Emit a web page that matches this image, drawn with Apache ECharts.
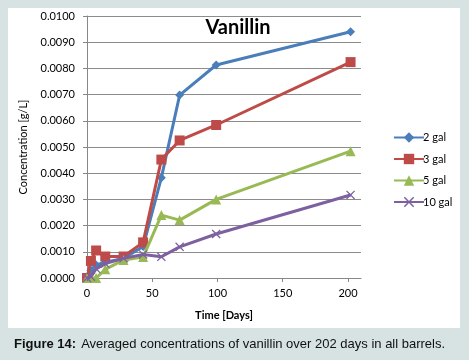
<!DOCTYPE html>
<html>
<head>
<meta charset="utf-8">
<script src="https://cdn.jsdelivr.net/npm/echarts@6/dist/echarts.min.js"></script>
<style>
html,body{margin:0;padding:0;background:#d6e3e2;}
#panel{position:absolute;left:8px;top:8px;width:452px;height:320px;background:#fff;}
#chart{position:absolute;left:0;top:0;width:469px;height:360px;}
</style>
</head>
<body>
<div id="panel"></div>
<div id="chart"></div>
<script>
// Data (days, concentrations in g/L)
const days = [0, 3, 7, 14, 28, 43, 57, 71, 99, 202];
const gal2 = [0.0000, 0.0003, 0.0005, 0.0006, 0.00075, 0.0012, 0.00383, 0.00698, 0.00813, 0.00940];
const gal3 = [0.0000, 0.00065, 0.00105, 0.00082, 0.00082, 0.00136, 0.00452, 0.00525, 0.00584, 0.00824];
const gal5 = [0.0000, 0.0000, 0.0000, 0.00033, 0.00069, 0.00080, 0.00240, 0.00221, 0.00300, 0.00484];
const gal10 = [0.0000, 0.00005, 0.00035, 0.00055, 0.00075, 0.00090, 0.00081, 0.00119, 0.00168, 0.00317];
const seriesNames = ['2 gal', '3 gal', '5 gal', '10 gal'];
const yTicks = ['0.0000','0.0010','0.0020','0.0030','0.0040','0.0050','0.0060','0.0070','0.0080','0.0090','0.0100'];

const colors = ['#4a7ebb', '#be4b48', '#98b954', '#7d60a0'];
const xPath = 'path://M0,1 L1,0 L5,4 L9,0 L10,1 L6,5 L10,9 L9,10 L5,6 L1,10 L0,9 L4,5 Z';
const symbols = ['diamond', 'rect', 'triangle', xPath];
const symSizes = [9, 10, 10, 9];
const allData = [gal2, gal3, gal5, gal10];
const font = 'Lato';

const chart = echarts.init(document.getElementById('chart'), null, {renderer: 'canvas'});
chart.setOption({
  animation: false,
  backgroundColor: 'transparent',
  title: [
    {text: 'Vanillin', left: 233, top: 13, textAlign: 'center',
     textStyle: {fontFamily: font, fontWeight: 'bold', fontSize: 20, color: '#000'}},
    {text: '{b|Figure 14:} {n|Averaged concentrations of vanillin over 202 days in all barrels.}',
     left: 9, top: 330,
     textStyle: {fontWeight: 'normal', rich: {
       b: {fontFamily: 'Liberation Sans', fontWeight: 'bold', fontSize: 13, color: '#111'},
       n: {fontFamily: 'Liberation Sans', fontWeight: 'normal', fontSize: 13, color: '#111'}
     }}}
  ],
  legend: {
    orient: 'vertical', left: 388, top: 127, itemGap: 10.5,
    itemWidth: 30, itemHeight: 13,
    data: seriesNames,
    textStyle: {fontFamily: font, fontSize: 11, color: '#000', padding: [0,0,0,-6]}
  },
  grid: {left: 87, right: 108, top: 16, bottom: 82},
  xAxis: {
    type: 'value', min: 0, max: 210, interval: 50,
    name: 'Time [Days]', nameLocation: 'middle', nameGap: 32,
    nameTextStyle: {fontFamily: font, fontWeight: 'bold', fontSize: 11, color: '#000'},
    axisLine: {lineStyle: {color: '#888', width: 1}},
    axisTick: {show: true, length: 4, lineStyle: {color: '#888'}},
    axisLabel: {fontFamily: font, fontSize: 11, color: '#000', margin: 10, showMaxLabel: false},
    splitLine: {show: false}
  },
  yAxis: {
    type: 'value', min: 0, max: 0.01, interval: 0.001,
    name: 'Concentration [g/L]', nameLocation: 'middle', nameGap: 58,
    nameTextStyle: {fontFamily: font, fontSize: 11, color: '#000'},
    axisLine: {show: true, lineStyle: {color: '#888', width: 1}},
    axisTick: {show: true, inside: false, length: 4, lineStyle: {color: '#888'}},
    axisLabel: {fontFamily: font, fontSize: 11, color: '#000', margin: 12,
      formatter: (v) => yTicks[Math.round(v / 0.001)]},
    splitLine: {lineStyle: {color: '#8c8c8c', width: 1}}
  },
  series: allData.map((vals, i) => ({
    name: seriesNames[i], type: 'line',
    data: days.map((d, k) => [d, vals[k]]),
    symbol: symbols[i], symbolSize: symSizes[i],
    showAllSymbol: true,
    lineStyle: {color: colors[i], width: 3},
    itemStyle: {color: colors[i]},
    z: 2 + i
  }))
});
</script>
</body>
</html>
